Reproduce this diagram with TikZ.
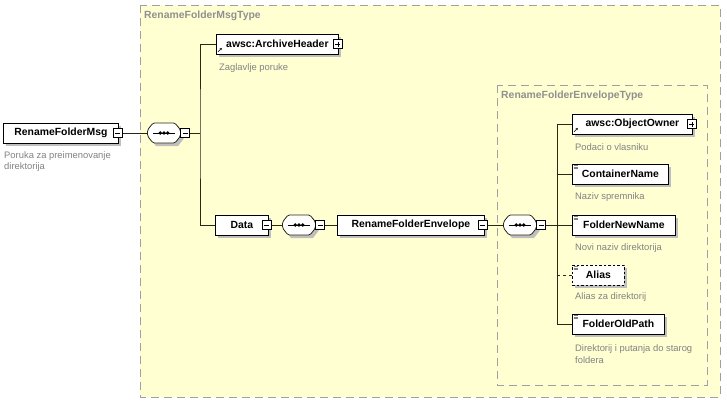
\documentclass[tikz,border=0pt]{standalone}
\usepackage{fontspec}
\setmainfont{Liberation Sans}
\usetikzlibrary{positioning,shadows,arrows.meta}
\definecolor{typefill}{RGB}{255,255,210}
\definecolor{typeline}{RGB}{160,160,160}
\definecolor{desctext}{RGB}{130,130,130}
\definecolor{wire}{RGB}{40,40,20}

% sequence compositor drawn round a named node
\newcommand{\seqmark}[1]{%
    \begin{scope}[shift={(#1.center)}]
        \fill[black!25] (-13.5,0) -- (-8,-7) -- (14,-7) -- (19.5,0) -- (19.5,6) -- (14,13) -- (-8,13) -- (-13.5,6) -- cycle;
        \draw[draw=wire,fill=white,line width=0.8pt,rounded corners=1.5pt] (-16.5,-3) -- (-11,-10) -- (11,-10) -- (16.5,-3) -- (16.5,3) -- (11,10) -- (-11,10) -- (-16.5,3) -- cycle;
        \draw[line width=0.8pt] (-11,0) -- (11,0);
        \fill (-3.8,0) circle (1.9pt) (0,0) circle (1.9pt) (3.8,0) circle (1.9pt);
    \end{scope}}

\begin{document}
\begin{tikzpicture}[x=1pt,y=-1pt,
    elem/.style={draw,line width=0.8pt,fill=white,minimum height=20pt,inner xsep=6pt,anchor=west,
        font=\fontsize{10.4}{12}\selectfont\bfseries,
        drop shadow={shadow xshift=3pt,shadow yshift=-3pt,fill=black!25,opacity=1}},
    seqbox/.style={minimum width=33pt,minimum height=20pt,inner sep=0pt},
    minusbox/.style={draw,fill=white,line width=0.6pt,minimum size=9pt,inner sep=0pt,
        path picture={\draw ([xshift=2pt]path picture bounding box.west) -- ([xshift=-2pt]path picture bounding box.east);}},
    plusbox/.style={draw,fill=white,line width=0.6pt,minimum size=9pt,inner sep=0pt,
        path picture={\draw ([xshift=2pt]path picture bounding box.west) -- ([xshift=-2pt]path picture bounding box.east);
            \draw ([yshift=2pt]path picture bounding box.south) -- ([yshift=-2pt]path picture bounding box.north);}},
    desc/.style={anchor=west,inner sep=0pt,align=left,text=desctext,font=\fontsize{9.4}{11.5}\selectfont},
    typetitle/.style={anchor=west,inner sep=0pt,text=typeline!90!black,font=\fontsize{10.4}{12}\selectfont\bfseries},
    typebox/.style={draw=typeline,fill=typefill,line width=0.8pt,dash pattern=on 8pt off 5pt},
    wiring/.style={draw=wire,line width=0.8pt}
]
        \path[use as bounding box,fill=white] (0,0) rectangle (727,405);

        % complex types
        \path[typebox] (140,5) rectangle (720,397);
        \node[typetitle] (msgtype) at (144,16) {RenameFolderMsgType};
        \path[typebox] (497,85) rectangle (707,385);
        \node[typetitle] (envtype) at (501,96) {RenameFolderEnvelopeType};

        % root element
        \node[elem,minimum width=115pt] (msg) at (3,133) {RenameFolderMsg};
        \node[minusbox] (msgm) at ([xshift=-1pt]msg.east) {};
        \node[desc] at (4,161.5) {Poruka za preimenovanje\\direktorija};

        \node[seqbox] (seq1) at (164,133) {};
        \seqmark{seq1}
        \node[minusbox] (seq1m) at ([xshift=4.5pt]seq1.east) {};
        \coordinate (b1) at (200,133);

        \node[elem,minimum width=122pt] (arch) at (216,44) {awsc:ArchiveHeader\hspace{6pt}};
        \node[plusbox] (archp) at ([xshift=-1pt]arch.east) {};
        \node[desc] at (219,68) {Zaglavlje poruke};

        \node[elem,minimum width=53pt] (data) at (215,225) {Data\hspace{6pt}};
        \node[minusbox] (datam) at ([xshift=-2pt]data.east) {};

        \node[seqbox] (seq2) at (299,225) {};
        \seqmark{seq2}
        \node[minusbox] (seq2m) at ([xshift=4.5pt]seq2.east) {};

        \node[elem,minimum width=147pt] (env) at (337,225) {RenameFolderEnvelope\hspace{6pt}};
        \node[minusbox] (envm) at ([xshift=-2pt]env.east) {};

        \node[seqbox] (seq3) at (520,225) {};
        \seqmark{seq3}
        \node[minusbox] (seq3m) at ([xshift=4.5pt]seq3.east) {};
        \coordinate (b2) at (557,225);

        % envelope children
        \node[elem,minimum width=120pt] (owner) at (572,124) {awsc:ObjectOwner\hspace{6pt}};
        \node[plusbox] (ownerp) at ([xshift=-1pt]owner.east) {};
        \node[desc] at (575,147) {Podaci o vlasniku};

        \node[elem,minimum width=96pt] (cont) at (572,174) {ContainerName};
        \node[desc] at (575,197) {Naziv spremnika};

        \node[elem,minimum width=103pt] (fnn) at (572,225) {FolderNewName};
        \node[desc] at (575,248) {Novi naziv direktorija};

        \node[elem,minimum width=52pt,dash pattern=on 2.5pt off 2pt] (alias) at (572,275) {Alias};
        \node[desc] at (575,297) {Alias za direktorij};

        \node[elem,minimum width=92pt] (fop) at (572,324) {FolderOldPath};
        \node[desc] at (575,354) {Direktorij i putanja do starog\\foldera};

        % reference arrows
        \draw[wiring,line width=0.7pt,-{Stealth[length=2.5pt,width=2.5pt]}] ([shift={(2pt,2.5pt)}]arch.south west) -- ++(4pt,4pt);
        \draw[wiring,line width=0.7pt,-{Stealth[length=2.5pt,width=2.5pt]}] ([shift={(2pt,2.5pt)}]owner.south west) -- ++(4pt,4pt);

        % simple type marks
        \draw[gray,line width=0.5pt] ([shift={(1.5pt,-2pt)}]cont.north west) -- ++(4pt,0pt) ([shift={(1.5pt,-3.5pt)}]cont.north west) -- ++(4pt,0pt) ([shift={(1.5pt,-5pt)}]cont.north west) -- ++(4pt,0pt);
        \draw[gray,line width=0.5pt] ([shift={(1.5pt,-2pt)}]fnn.north west) -- ++(4pt,0pt) ([shift={(1.5pt,-3.5pt)}]fnn.north west) -- ++(4pt,0pt) ([shift={(1.5pt,-5pt)}]fnn.north west) -- ++(4pt,0pt);
        \draw[gray,line width=0.5pt] ([shift={(1.5pt,-2pt)}]alias.north west) -- ++(4pt,0pt) ([shift={(1.5pt,-3.5pt)}]alias.north west) -- ++(4pt,0pt) ([shift={(1.5pt,-5pt)}]alias.north west) -- ++(4pt,0pt);
        \draw[gray,line width=0.5pt] ([shift={(1.5pt,-2pt)}]fop.north west) -- ++(4pt,0pt) ([shift={(1.5pt,-3.5pt)}]fop.north west) -- ++(4pt,0pt) ([shift={(1.5pt,-5pt)}]fop.north west) -- ++(4pt,0pt);

        % connectors
        \draw[wiring] (msgm) -- (seq1);
        \draw[wiring] (seq1m) -- (b1);
        \draw[wiring] (arch.west) -| (b1) |- (data.west);
        \draw[wiring] (datam) -- (seq2);
        \draw[wiring] (seq2m) -- (env);
        \draw[wiring] (envm) -- (seq3);
        \draw[wiring] (seq3m) -- (b2);
        \draw[wiring] (owner.west) -| (b2) |- (fop.west);
        \draw[wiring] (b2 |- cont.west) -- (cont.west);
        \draw[wiring] (b2) -- (fnn.west);
        \draw[wiring,dashed] (b2 |- alias.west) -- (alias.west);

    \end{tikzpicture}
\end{document}
